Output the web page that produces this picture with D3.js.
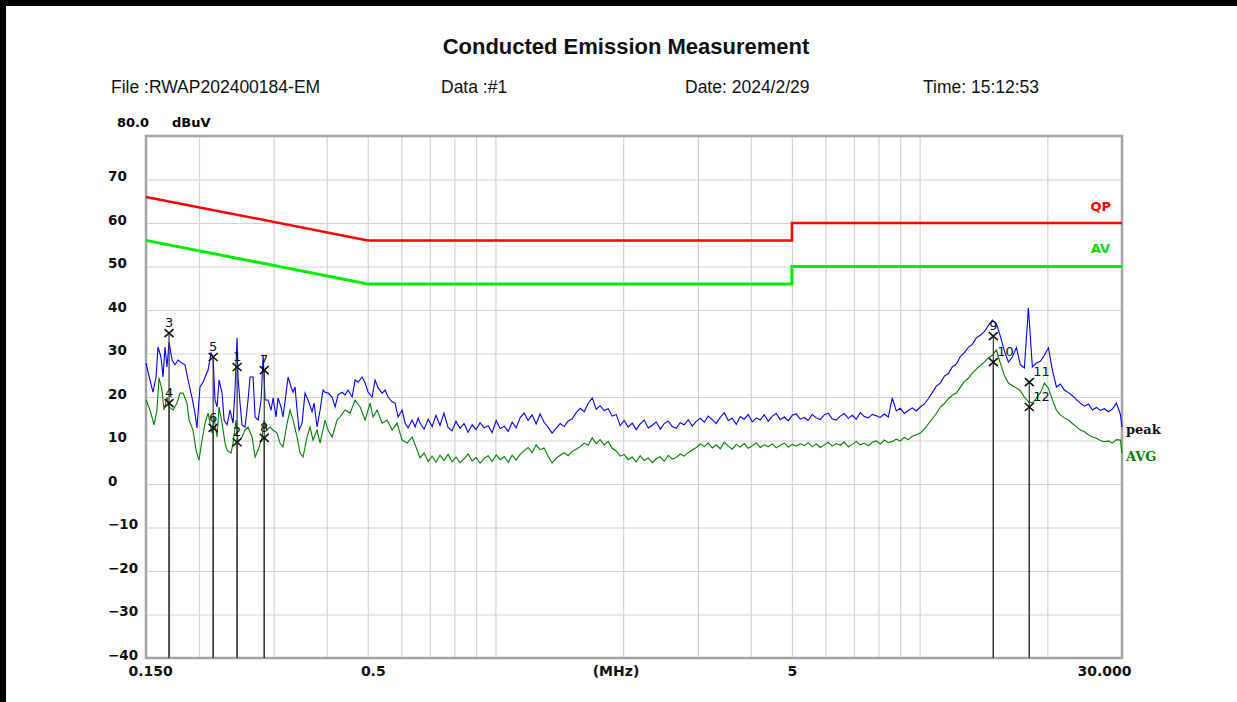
<!DOCTYPE html>
<html>
<head>
<meta charset="utf-8">
<script src="https://cdn.jsdelivr.net/npm/d3@7"></script>
<style>
body { margin: 0; background: #fff; }
svg { display: block; }
</style>
</head>
<body>
<svg id="svg_ce" width="1237" height="702"></svg>
<script>
// ---- data ----
var titleText = "Conducted Emission Measurement";
var headerText = ["File :RWAP202400184-EM", "Data :#1", "Date: 2024/2/29", "Time: 15:12:53"];
var headerX = [111, 441, 685, 923];

var yTicks = [70, 60, 50, 40, 30, 20, 10, 0, -10, -20, -30, -40];
var xTickFreq = [0.15, 0.5, 5, 30];
var xTickText = ["0.150", "0.5", "5", "30.000"];
var gridFreq = [0.2, 0.3, 0.4, 0.5, 0.6, 0.7, 0.8, 0.9, 1, 2, 3, 4, 5, 6, 7, 8, 9, 10, 20];

// limits (MHz / dBuV)
var qpLimitFreq = [0.15, 0.5, 5, 5, 30];
var qpLimitLevel = [66, 56, 56, 60, 60];
var avLimitFreq = [0.15, 0.5, 5, 5, 30];
var avLimitLevel = [56, 46, 46, 50, 50];

// 0.15 - 0.66 MHz part of the sweep
var lowPeakFreq = [0.1500, 0.1533, 0.1558, 0.1584, 0.1601, 0.1627, 0.1645, 0.1663, 0.1681, 0.1700,
	0.1728, 0.1756, 0.1785, 0.1824, 0.1854, 0.1885, 0.1926, 0.1957, 0.1978, 0.2011,
	0.2044, 0.2078, 0.2101, 0.2135, 0.2158, 0.2182, 0.2206, 0.2230, 0.2267, 0.2292,
	0.2329, 0.2367, 0.2406, 0.2432, 0.2459, 0.2472, 0.2499, 0.2526, 0.2568, 0.2610,
	0.2639, 0.2682, 0.2712, 0.2757, 0.2802, 0.2833, 0.2863, 0.2910, 0.2958, 0.2990,
	0.3039, 0.3072, 0.3122, 0.3156, 0.3209, 0.3244, 0.3297, 0.3333, 0.3369, 0.3406,
	0.3443, 0.3500, 0.3556, 0.3615, 0.3695, 0.3735, 0.3796, 0.3859, 0.3922, 0.3965,
	0.4030, 0.4120, 0.4187, 0.4256, 0.4349, 0.4420, 0.4493, 0.4592, 0.4667, 0.4744,
	0.4848, 0.4928, 0.5009, 0.5118, 0.5202, 0.5288, 0.5404, 0.5493, 0.5583, 0.5706,
	0.5799, 0.5894, 0.6024, 0.6123, 0.6223, 0.6360, 0.6465, 0.6572];
var lowPeakLevel = [27.8, 23.9, 21.1, 24.6, 31.5, 29.2, 24.6, 31.5, 26.9, 32.6,
	28.5, 27.4, 28.5, 27.8, 27.4, 23.9, 19.8, 16.3, 12.9, 22.3,
	23.4, 25.1, 26.2, 30.1, 29.2, 19.3, 17.7, 23.9, 20.9, 14.7,
	13.6, 17.0, 14.0, 21.6, 33.6, 24.6, 18.6, 13.6, 13.1, 19.3,
	24.6, 24.6, 15.4, 14.7, 19.3, 29.7, 19.3, 19.3, 17.0, 19.8,
	15.4, 19.8, 17.7, 15.4, 20.9, 24.6, 22.3, 21.1, 22.3, 17.0,
	12.4, 14.0, 20.9, 19.3, 16.6, 18.6, 13.1, 17.0, 21.6, 21.1,
	20.9, 20.0, 17.7, 20.5, 21.1, 20.5, 21.6, 20.0, 23.9, 23.4,
	24.6, 23.2, 21.1, 20.0, 23.9, 22.1, 20.9, 21.6, 20.0, 18.9,
	18.6, 15.4, 17.0, 14.0, 12.9, 14.7, 13.1, 15.2];

var lowAvgFreq = [0.1500, 0.1533, 0.1567, 0.1592, 0.1610, 0.1636, 0.1654, 0.1681, 0.1700, 0.1737,
	0.1775, 0.1804, 0.1834, 0.1874, 0.1895, 0.1936, 0.1968, 0.2000, 0.2033, 0.2067,
	0.2101, 0.2147, 0.2170, 0.2206, 0.2230, 0.2267, 0.2304, 0.2329, 0.2380, 0.2406,
	0.2446, 0.2472, 0.2526, 0.2568, 0.2610, 0.2668, 0.2712, 0.2757, 0.2818, 0.2848,
	0.2894, 0.2942, 0.2990, 0.3055, 0.3105, 0.3156, 0.3227, 0.3279, 0.3333, 0.3406,
	0.3462, 0.3519, 0.3595, 0.3655, 0.3715, 0.3796, 0.3859, 0.3965, 0.4030, 0.4120,
	0.4233, 0.4302, 0.4420, 0.4542, 0.4667, 0.4796, 0.4928, 0.5063, 0.5146, 0.5259,
	0.5404, 0.5553, 0.5706, 0.5862, 0.6024, 0.6190, 0.6360, 0.6536];
var lowAvgLevel = [19.3, 17.0, 13.6, 17.0, 24.4, 21.6, 17.0, 20.0, 17.7, 17.0,
	18.6, 20.9, 20.9, 18.6, 14.7, 12.4, 7.8, 5.5, 10.1, 14.0,
	16.3, 11.7, 15.4, 10.8, 17.7, 14.0, 9.4, 7.8, 7.1, 9.4,
	14.7, 9.7, 10.8, 12.4, 13.1, 10.8, 6.2, 7.8, 10.8, 14.7,
	12.4, 13.1, 12.4, 11.7, 9.4, 8.5, 14.0, 17.0, 14.7, 10.8,
	7.1, 6.2, 10.8, 13.1, 10.1, 12.4, 9.4, 14.7, 12.4, 10.8,
	14.7, 15.4, 17.0, 16.3, 19.3, 17.7, 14.7, 18.6, 15.4, 17.0,
	14.0, 14.7, 12.4, 14.0, 10.1, 9.4, 10.8, 7.8];

// 0.66 - 30 MHz part, both detectors on the same points
var sweepFreq = [0.664, 0.679, 0.694, 0.709, 0.724, 0.740, 0.756, 0.773, 0.790, 0.807,
	0.825, 0.843, 0.862, 0.881, 0.900, 0.920, 0.940, 0.961, 0.982, 1.004,
	1.026, 1.049, 1.072, 1.095, 1.119, 1.143, 1.168, 1.194, 1.220, 1.247,
	1.274, 1.302, 1.331, 1.360, 1.390, 1.421, 1.452, 1.484, 1.517, 1.550,
	1.584, 1.619, 1.654, 1.691, 1.728, 1.765, 1.804, 1.844, 1.884, 1.926,
	1.968, 2.011, 2.055, 2.101, 2.147, 2.194, 2.242, 2.292, 2.342, 2.393,
	2.446, 2.500, 2.555, 2.611, 2.668, 2.726, 2.786, 2.848, 2.910, 2.974,
	3.039, 3.106, 3.174, 3.244, 3.315, 3.388, 3.463, 3.539, 3.616, 3.696,
	3.776, 3.859, 3.944, 4.031, 4.119, 4.209, 4.302, 4.396, 4.493, 4.591,
	4.692, 4.795, 4.901, 5.008, 5.118, 5.230, 5.345, 5.462, 5.582, 5.705,
	5.830, 5.958, 6.089, 6.223, 6.359, 6.500, 6.642, 6.788, 6.937, 7.090,
	7.246, 7.405, 7.568, 7.734, 7.904, 8.076, 8.254, 8.435, 8.621, 8.810,
	9.003, 9.201, 9.403, 9.610, 9.821, 10.04, 10.26, 10.48, 10.71, 10.95,
	11.19, 11.44, 11.69, 11.94, 12.21, 12.47, 12.75, 13.03, 13.31, 13.60,
	13.90, 14.21, 14.52, 14.84, 15.17, 15.50, 15.84, 16.19, 16.54, 16.91,
	17.28, 17.66, 18.05, 18.44, 18.85, 19.26, 19.69, 20.12, 20.56, 21.01,
	21.47, 21.94, 22.43, 22.92, 23.42, 23.93, 24.46, 25.00, 25.55, 26.11,
	26.67, 27.26, 27.86, 28.47, 29.10, 29.74, 30.00];
var sweepPeak = [14.0, 12.6, 14.9, 13.2, 15.8, 13.5,
	16.3, 13.0, 12.2, 14.4, 12.8, 13.9, 11.9, 13.6, 12.5, 14.1, 12.9, 13.4, 11.8, 14.6, 12.7, 13.3, 12.1, 14.2, 12.9, 15.2,
	16.3, 14.6, 15.9, 13.8, 16.1, 14.2, 13.0,
	11.7, 12.8, 13.9, 13.2, 14.5, 15.0, 16.4,
	17.4, 16.6, 18.5, 19.8, 17.2, 18.0,
	16.9, 17.3, 15.6, 16.0, 13.4,
	14.6, 13.1, 14.0, 12.5, 13.8, 14.7, 12.9, 13.5, 14.3, 12.6, 13.9, 14.5, 13.2, 12.8, 14.1, 13.6, 14.8, 13.3, 14.4, 15.1,
	14.2, 15.6, 14.8, 13.9, 15.3, 16.4, 14.6, 15.1, 13.7, 15.5, 14.9, 16.0, 14.3, 15.2, 14.7, 15.9, 14.4, 15.6, 16.2, 14.8, 15.4, 14.5, 15.8, 16.1, 14.9,
	15.3, 14.6, 16.0, 15.2, 14.8, 15.9, 16.3, 15.0, 14.7, 15.6, 16.2, 15.1, 15.8, 14.9, 16.4, 15.5, 15.2, 16.0, 15.7, 15.3, 16.1, 15.4,
	19.8, 16.8, 17.4, 16.2, 16.9, 17.5, 16.8, 17.7,
	18.4, 19.6, 21.0, 22.5, 23.2, 24.8, 25.4, 26.9, 27.6, 29.3,
	30.2, 31.4, 32.1, 33.6, 34.2, 35.0, 36.4, 37.7, 36.8, 34.0,
	30.6, 28.0, 29.2, 31.4, 27.4, 26.7, 40.5, 26.9, 27.8, 28.2,
	29.6, 31.3, 26.2, 22.3, 23.0, 21.6, 21.0, 20.3, 19.4, 18.6,
	17.9, 18.4, 17.0, 17.6, 16.9, 17.3, 16.6, 17.2, 18.6, 16.0,
	13.1];
var sweepAvg = [6.0, 7.1, 5.2, 6.4, 5.0, 6.6,
	5.4, 6.8, 5.1, 6.2, 4.9, 5.8, 6.9, 5.3, 6.1, 4.8, 5.9, 6.5, 5.2, 6.7, 5.6, 6.3, 5.0, 6.6, 5.5, 6.8,
	7.6, 8.4, 7.2, 9.0, 7.9, 8.3, 6.4,
	4.8, 5.9, 6.6, 7.2, 6.5, 7.5, 8.0,
	8.6, 9.4, 8.9, 10.6, 9.3, 10.2,
	9.0, 9.8, 8.2, 7.6, 6.4,
	6.8, 5.6, 6.2, 5.1, 6.5, 5.4, 6.0, 4.9, 5.8, 6.3, 5.2, 6.6, 5.7, 6.1, 6.9, 6.4, 7.2, 7.8, 8.4, 9.2,
	8.6, 9.4, 8.3, 9.0, 8.1, 9.6, 8.7, 8.0, 9.1, 8.5, 9.3, 8.2, 8.8, 9.5, 8.4, 9.0, 8.6, 9.2, 8.3, 8.9, 9.4, 8.5, 9.1, 8.7, 9.3,
	8.8, 9.5, 8.6, 9.2, 8.4, 9.0, 9.6, 8.7, 9.3, 8.9, 9.7, 8.5, 9.1, 9.8, 9.0, 9.4, 8.8, 9.6, 9.9, 9.2, 10.1, 9.5,
	9.8, 10.3, 9.9, 10.7, 10.2, 11.0, 11.3, 11.7,
	12.6, 13.8, 15.0, 16.2, 17.7, 18.5, 19.6, 20.4, 20.9, 22.2,
	23.6, 24.3, 25.5, 26.4, 27.2, 28.0, 29.0, 29.6, 30.8, 27.8,
	25.0, 23.2, 22.6, 22.1, 21.4, 20.0, 18.9, 18.6, 19.7, 21.0,
	23.2, 22.0, 19.4, 17.0, 15.9, 15.2, 14.7, 13.9, 13.2, 12.4,
	12.0, 11.3, 10.8, 10.5, 10.0, 9.7, 9.9, 9.4, 10.2, 10.1,
	7.1];

// marker table
var markerNo = [1, 2, 3, 4, 5, 6, 7, 8, 9, 10, 11, 12];
var markerFreq = [0.246, 0.246, 0.170, 0.170, 0.216, 0.216, 0.285, 0.285, 14.92, 14.92, 18.14, 18.14];
var markerLevel = [26.9, 9.6, 34.7, 18.6, 29.2, 12.9, 26.2, 10.6, 34.0, 28.0, 23.4, 17.7];

// ---- drawing ----
var svg_ce = d3.select("svg#svg_ce");
var ce_margin = {top: 136, right: 115, bottom: 44, left: 146};
var ce_width = +svg_ce.attr("width") - ce_margin.left - ce_margin.right;
var ce_height = +svg_ce.attr("height") - ce_margin.top - ce_margin.bottom;

var x_ce = d3.scaleLog().domain([0.15, 30]).range([0, ce_width]);
var y_ce = d3.scaleLinear().domain([-40, 80]).range([ce_height, 0]);

var boldFont = "'DejaVu Sans', sans-serif";

// page frame
svg_ce.append("rect").attr("x", 0).attr("y", 0).attr("width", 1237).attr("height", 6).attr("fill", "#000");
svg_ce.append("rect").attr("x", 0).attr("y", 0).attr("width", 6).attr("height", 702).attr("fill", "#000");

// title + header line
svg_ce.append("text")
.attr("x", 626).attr("y", 54)
.attr("text-anchor", "middle")
.attr("font-family", "'Liberation Sans', Arial, sans-serif")
.attr("font-weight", "bold")
.attr("font-size", 22)
.attr("fill", "#111")
.text(titleText);

svg_ce.selectAll("text.header")
.data(headerText)
.enter().append("text")
.attr("class", "header")
.attr("x", function(d, i) { return headerX[i]; })
.attr("y", 93)
.attr("font-family", "'Liberation Sans', Arial, sans-serif")
.attr("font-size", 17.5)
.attr("fill", "#111")
.text(function(d) { return d; });

svg_ce.append("text").attr("x", 117).attr("y", 127)
.attr("font-family", boldFont).attr("font-weight", "bold").attr("font-size", 13)
.text("80.0");
svg_ce.append("text").attr("x", 172).attr("y", 127)
.attr("font-family", boldFont).attr("font-weight", "bold").attr("font-size", 13)
.text("dBuV");

var focus_ce = svg_ce.append("g")
.attr("transform", "translate(" + ce_margin.left + "," + ce_margin.top + ")");

// grid
focus_ce.append("g")
.attr("class", "grid grid--x")
.attr("transform", "translate(0," + ce_height + ")")
.call(d3.axisBottom(x_ce).tickValues(gridFreq).tickSize(-ce_height).tickFormat(""))
.call(function(g) { g.select(".domain").remove(); });

focus_ce.append("g")
.attr("class", "grid grid--y")
.call(d3.axisLeft(y_ce).tickValues(yTicks.filter(function(d) { return d > -40; })).tickSize(-ce_width).tickFormat(""))
.call(function(g) { g.select(".domain").remove(); });

focus_ce.selectAll(".grid line").attr("stroke", "#d2d2d2").attr("stroke-width", 1.2);

// y labels, left aligned like the analyser print
var yAxis_ce = focus_ce.append("g")
.attr("class", "axis axis--y")
.call(d3.axisLeft(y_ce).tickValues(yTicks).tickSize(0).tickFormat(d3.format("d")))
.call(function(g) { g.select(".domain").remove(); });
yAxis_ce.attr("font-family", boldFont).attr("font-size", 13.5).attr("font-weight", "bold");
yAxis_ce.selectAll("text")
.attr("x", -38)
.attr("dy", "0.1em")
.attr("text-anchor", "start")
.attr("fill", "#111");

// x labels
var xAxis_ce = focus_ce.append("g")
.attr("class", "axis axis--x")
.attr("transform", "translate(0," + ce_height + ")")
.call(d3.axisBottom(x_ce).tickValues(xTickFreq).tickSize(0)
	.tickFormat(function(d, i) { return xTickText[i]; }))
.call(function(g) { g.select(".domain").remove(); });
xAxis_ce.attr("font-family", boldFont).attr("font-size", 14).attr("font-weight", "bold");
xAxis_ce.selectAll("text")
.attr("y", 8)
.attr("fill", "#111")
.attr("text-anchor", function(d, i) { return i == 0 ? "start" : (i == xTickFreq.length - 1 ? "end" : "middle"); })
.attr("x", function(d, i) { return i == 0 ? -18 : (i == xTickFreq.length - 1 ? 9 : (i == 1 ? 5 : 0)); });

xAxis_ce.append("text")
.attr("x", 470).attr("y", 8).attr("dy", "0.71em")
.attr("text-anchor", "middle")
.attr("fill", "#111")
.text("(MHz)");

// plot frame
focus_ce.append("rect")
.attr("width", ce_width).attr("height", ce_height)
.attr("fill", "none")
.attr("stroke", "#a3a3a3")
.attr("stroke-width", 2.5);

var line_ce = d3.line()
.x(function(d) { return x_ce(d[0]); })
.y(function(d) { return y_ce(d[1]); });

// limit lines
focus_ce.append("path")
.datum(d3.zip(qpLimitFreq, qpLimitLevel))
.attr("fill", "none").attr("stroke", "#ff0000").attr("stroke-width", 2.5)
.attr("d", line_ce);
focus_ce.append("path")
.datum(d3.zip(avLimitFreq, avLimitLevel))
.attr("fill", "none").attr("stroke", "#00ee00").attr("stroke-width", 3)
.attr("d", line_ce);

focus_ce.append("text")
.attr("x", ce_width - 11).attr("y", y_ce(60) - 12)
.attr("text-anchor", "end")
.attr("font-family", boldFont).attr("font-weight", "bold").attr("font-size", 13)
.attr("fill", "#ff0000").text("QP");
focus_ce.append("text")
.attr("x", ce_width - 12).attr("y", y_ce(50) - 14)
.attr("text-anchor", "end")
.attr("font-family", boldFont).attr("font-weight", "bold").attr("font-size", 13)
.attr("fill", "#00dd00").text("AV");

// traces
var peakData = d3.zip(lowPeakFreq, lowPeakLevel).concat(d3.zip(sweepFreq, sweepPeak));
var avgData = d3.zip(lowAvgFreq, lowAvgLevel).concat(d3.zip(sweepFreq, sweepAvg));

focus_ce.append("path")
.datum(avgData)
.attr("fill", "none").attr("stroke", "#008000").attr("stroke-width", 1.1)
.attr("d", line_ce);
focus_ce.append("path")
.datum(peakData)
.attr("fill", "none").attr("stroke", "#0000ff").attr("stroke-width", 1.1)
.attr("d", line_ce);

var lastPeak = peakData[peakData.length - 1];
var lastAvg = avgData[avgData.length - 1];
focus_ce.append("text")
.attr("x", ce_width + 4).attr("y", y_ce(lastPeak[1]) + 7)
.attr("font-family", "'DejaVu Serif', serif").attr("font-weight", "bold").attr("font-size", 13)
.attr("fill", "#111").text("peak");
focus_ce.append("text")
.attr("x", ce_width + 4).attr("y", y_ce(lastAvg[1]) + 8)
.attr("font-family", "'DejaVu Serif', serif").attr("font-weight", "bold").attr("font-size", 13)
.attr("fill", "#008000").text("AVG");

// markers
var markers = markerNo.map(function(n, i) { return {no: n, f: markerFreq[i], v: markerLevel[i]}; });

focus_ce.selectAll("line.mk")
.data(markers)
.enter().append("line")
.attr("class", "mk")
.attr("x1", function(d) { return x_ce(d.f); })
.attr("x2", function(d) { return x_ce(d.f); })
.attr("y1", function(d) { return y_ce(d.v); })
.attr("y2", ce_height)
.attr("stroke", "#333")
.attr("stroke-width", 1.2);

var mk_g = focus_ce.selectAll("g.marker")
.data(markers)
.enter().append("g")
.attr("class", "marker")
.attr("transform", function(d) { return "translate(" + x_ce(d.f) + "," + y_ce(d.v) + ")"; });

mk_g.append("path")
.attr("d", "M-4.5,-4L4.5,4M-4.5,4L4.5,-4")
.attr("stroke", "#111")
.attr("stroke-width", 1.6);

mk_g.append("text")
.attr("x", function(d) { return d.no >= 10 ? 4 : 0; })
.attr("y", -6)
.attr("text-anchor", function(d) { return d.no >= 10 ? "start" : "middle"; })
.attr("font-family", "'DejaVu Sans', sans-serif")
.attr("font-size", 13)
.attr("fill", "#111")
.text(function(d) { return d.no; });
</script>
</body>
</html>
